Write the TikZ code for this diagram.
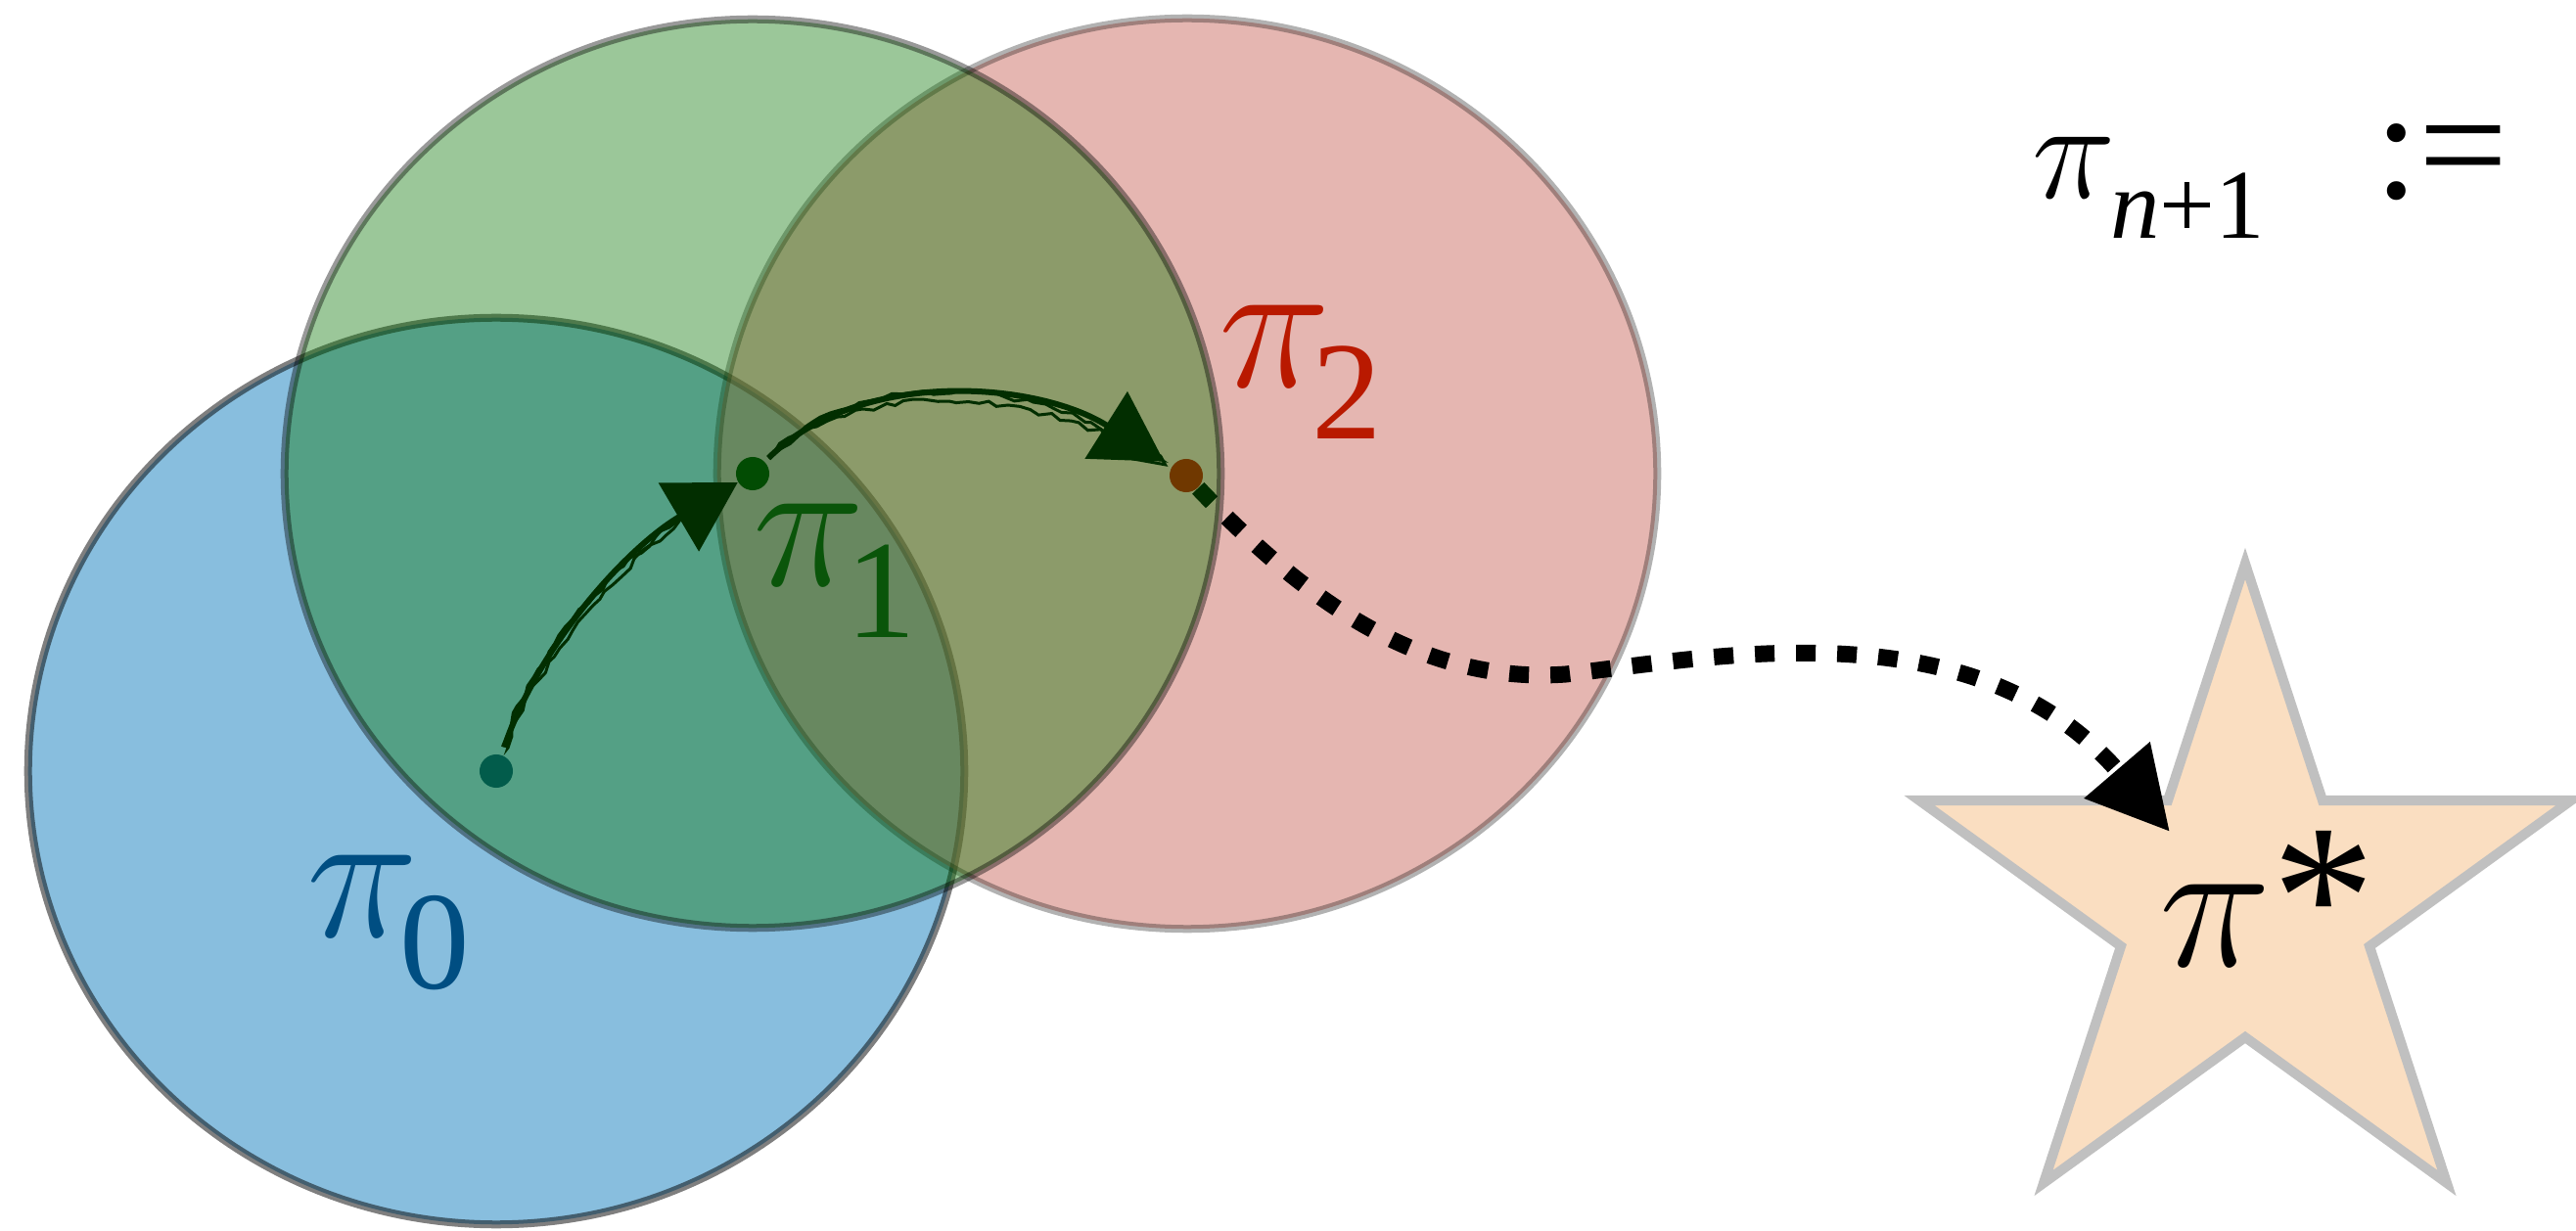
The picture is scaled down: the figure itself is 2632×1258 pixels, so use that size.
\RequirePackage{fix-cm}
\documentclass[tikz,border=0pt]{standalone}
\usepackage{fontspec}
\setmainfont{Liberation Serif}
\usetikzlibrary{arrows.meta,decorations.pathmorphing}
\definecolor{blueF}{RGB}{19,127,191}
\definecolor{redF}{RGB}{205,111,101}
\definecolor{greenF}{RGB}{7,115,0}
\definecolor{lblBlue}{RGB}{0,78,130}
\definecolor{lblGreen}{RGB}{10,85,10}
\definecolor{lblRed}{RGB}{185,25,0}
\definecolor{dotBlue}{RGB}{0,77,125}
\definecolor{dotGreen}{RGB}{0,50,5}
\definecolor{dotRed}{RGB}{182,17,0}
\definecolor{starF}{RGB}{250,222,193}
\definecolor{starD}{RGB}{192,192,192}
\newcommand{\lsub}[1]{\kern-0.1em\raisebox{-0.27em}{\scalebox{0.74}{\upshape #1}}}
\newcommand{\mpi}{$\pi$}
\begin{document}
\begin{tikzpicture}[x=0.01cm,y=-0.01cm,
  region/.style={line width=0.08cm},
  dotnode/.style={circle,inner sep=0pt,minimum size=0.34cm},
  lbl/.style={inner sep=0pt,anchor=base west,font=\fontsize{55}{60}\selectfont},
  sketch/.style={line width=0.06cm,draw=black,-{Triangle[length=0.7cm,width=0.8cm]}},
  rough/.style={line width=0.03cm,draw=black,decorate,decoration={random steps,segment length=3pt,amplitude=0.8pt}},
  dashedarrow/.style={line width=0.17cm,draw=black,dash pattern=on 0.2cm off 0.22cm,-{Triangle[length=0.83cm,width=0.84cm]}},
  starshape/.style={line width=0.1cm,draw=starD,fill=starF,line join=miter}
]
\useasboundingbox (0,0) rectangle (2632,1258);
\fill[white] (0,0) rectangle (2632,1258);
\pgfmathsetseed{7}
% blue and red regions
\path[region,fill=blueF,fill opacity=0.5,draw=black,draw opacity=0.5] (507,788) ellipse [x radius=4.78cm,y radius=4.63cm];
\path[region,fill=redF,fill opacity=0.5,draw=black,draw opacity=0.3] (1213,484) ellipse [x radius=4.8cm,y radius=4.65cm];
% star (target)
\draw[starshape] (2294,576) -- (2373,818) -- (2627,818) -- (2421,967) -- (2500,1209) -- (2294,1060) -- (2088,1209) -- (2167,967) -- (1961,818) -- (2215,818) -- cycle;
\coordinate (tipS) at (2217,850);
% dots
\node[dotnode,fill=dotBlue] (d0) at (507,788) {};
\node[dotnode,fill=dotGreen] (d1) at (769,484) {};
\node[dotnode,fill=dotRed] (d2) at (1212,486) {};
% sketchy arrows
\draw[sketch,shorten <=0.08cm] (d0) .. controls (550,660) and (640,560) .. (d1);
\draw[rough,shorten <=0.08cm,shorten >=0.3cm] (d0) .. controls (544,662) and (634,562) .. (d1);
\draw[rough,shorten <=0.1cm,shorten >=0.3cm] (d0) .. controls (556,658) and (646,558) .. (d1);
\draw[sketch,shorten <=0.05cm,shorten >=0.09cm] (d1) .. controls (880,375) and (1060,390) .. (d2);
\draw[rough,shorten <=0.05cm,shorten >=0.4cm] (d1) .. controls (880,369) and (1060,384) .. (d2);
\draw[rough,shorten <=0.06cm,shorten >=0.4cm] (d1) .. controls (880,381) and (1060,396) .. (d2);
% dotted arrow to the optimum
\draw[dashedarrow] (d2) .. controls (1330,610) and (1450,700) .. (1600,689) .. controls (1760,670) and (2020,620) .. (tipS);
% green region on top
\path[region,fill=greenF,fill opacity=0.4,draw=black,draw opacity=0.4] (769,484) ellipse [x radius=4.78cm,y radius=4.64cm];
% labels
\node[lbl,text=lblBlue] (l0) at (313,958) {\mpi\lsub{0}};
\node[lbl,text=lblGreen] (l1) at (769,599) {\mpi\lsub{1}};
\node[lbl,text=lblRed] (l2) at (1245,396) {\mpi\lsub{2}};
\node[lbl,text=black] (ls) at (2206,988) {\mpi{\fontsize{60}{60}\selectfont *}};
% formula
\node[lbl,font=\fontsize{41}{48}\selectfont] (f) at (2076,203) {\mpi\kern-0.04em\raisebox{-0.28em}{\scalebox{0.7}{\itshape n\upshape +1}}\hspace{1.12cm}{\fontsize{46}{50}\selectfont :=}};
\end{tikzpicture}
\end{document}
